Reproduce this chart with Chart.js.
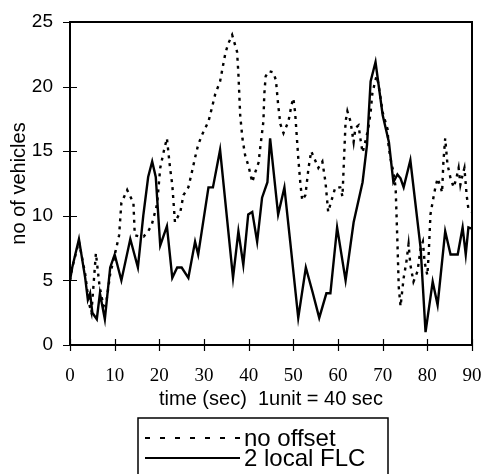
<!DOCTYPE html>
<html>
<head>
<meta charset="utf-8">
<script src="https://cdn.jsdelivr.net/npm/chart.js@4.4.1/dist/chart.umd.min.js"></script>
<style>
  html, body { margin: 0; padding: 0; background: #fff; }
  #wrap { width: 484px; height: 474px; }
</style>
</head>
<body>
<div id="wrap"><canvas id="chart" width="484" height="474"></canvas></div>
<script>
// time units (1 unit = 40 sec) and number of vehicles
const noOffsetX = [0, 0.5, 2, 3.4, 4.2, 4.8, 5.8, 6.6, 7.5, 8.2, 9, 10.3, 11, 11.5, 12.8, 14.2, 14.5, 15.5, 16.5, 17.5,
  18.3, 19.5, 20.2, 21, 21.7, 22.4, 22.9, 23.5, 24.7, 25.4, 26.5, 27.3, 28, 28.7, 29.6, 31, 31.8, 32.5, 33.6, 34.3,
  34.8, 35.4, 36.3, 37.4, 37.7, 38.1, 38.6, 39.2, 40, 40.8, 41.5, 42.2, 42.6, 43.3, 43.5, 43.8, 44.5, 45.5, 46.1, 46.6,
  47.1, 47.8, 48.9, 49.6, 50, 50.4, 51.1, 51.6, 52, 52.7, 53.4, 54, 55, 55.6, 56.5, 57.2, 57.8, 59.4, 60.5, 61,
  61.3, 61.7, 62.1, 62.8, 63.5, 63.9, 64.6, 65, 65.5, 66.1, 66.8, 67.3, 67.7, 68.6, 69, 69.5, 70, 71.1, 71.3, 71.7,
  72.4, 72.9, 73.3, 73.6, 74, 74.7, 75.3, 75.8, 76.2, 76.9, 77.8, 78.5, 79, 79.4, 80, 80.3, 80.7, 81.2, 81.8, 82.3,
  83, 83.3, 83.6, 84, 84.5, 85.2, 85.9, 86.5, 87, 87.4, 87.9, 88.3, 88.8, 89.2, 90];
const noOffsetY = [5, 6, 8, 5.5, 3.3, 2.5, 7.1, 4.6, 3, 3.5, 5.5, 7.4, 8.5, 11, 12, 11, 8.5, 8.4, 8.4, 8.8,
  9.3, 10.9, 13.7, 15, 16, 13.7, 12.4, 9.5, 10.3, 11.6, 12.2, 13.4, 14.5, 15.5, 16.3, 17.3, 18.4, 19.4, 20.4, 21.7,
  22.6, 23.3, 24, 22.7, 21, 17.8, 16, 14.7, 13.8, 12.6, 13.4, 14.1, 15.3, 17.3, 19.4, 20.8, 21.2, 21.1, 20.5, 18.6,
  17.1, 16.4, 17.3, 18.6, 19.1, 18, 14.5, 12.4, 11.2, 11.6, 13.7, 15, 14.2, 13.7, 14.2, 12.6, 10.3, 12.2, 12.2, 11.5,
  14, 17.3, 18.1, 17.3, 15.7, 16.8, 17, 16, 14.9, 15.7, 16.8, 18, 19.5, 20.8, 20.3, 19.2, 18, 16.7, 15.5, 14.5,
  13.4, 12.2, 8, 4.5, 3, 5.2, 6.4, 7.8, 6.2, 4.9, 5.7, 7.5, 8, 6.4, 5.4, 7, 10.1, 11.1, 12.2, 12.9,
  12.2, 11.8, 14.2, 16, 14, 12.9, 12.2, 12.9, 13.7, 12.4, 13.2, 13.7, 11.6, 10.5, 10.3];

const localFlcX = [0, 0.5, 2, 3.4, 4, 4.5, 5, 6, 6.7, 7.8, 9, 10, 11.5, 13.5, 15.2, 16.4, 17.5, 18.4, 19.2, 20.2,
  21.7, 22.9, 24, 25, 26.5, 28, 28.7, 31, 32, 33.6, 36.5, 37.7, 38.8, 39.9, 40.8, 41.9, 43, 44.2, 44.8, 46.6,
  48, 49.3, 51.1, 52.8, 54.3, 55.8, 57.4, 58.3, 59.8, 61.7, 63.5, 65.5, 66.5, 67.3, 68.4, 70, 71.4, 72.4, 73.3, 74,
  74.7, 76.2, 78.5, 79.6, 81.2, 82.3, 84, 85.2, 86.8, 87.9, 88.6, 89.2, 90];
const localFlcY = [5, 6, 8.2, 5.2, 3.5, 4, 2.5, 2, 4, 2, 6, 7, 5, 8.2, 6, 10, 13, 14.2, 13, 7.7,
  9.2, 5.2, 6, 6, 5.2, 8, 7, 12.2, 12.2, 15.1, 5.2, 8.8, 6.2, 10.1, 10.3, 8, 11.4, 12.6, 16, 10.1,
  12.2, 8, 2.1, 6, 4.1, 2.1, 4, 4, 9.1, 5, 9.5, 12.6, 15.5, 20.4, 21.9, 17.8, 15.7, 12.6, 13.2, 12.9,
  12.2, 14.3, 7.5, 1, 4.9, 3.1, 8.8, 7, 7, 9.1, 7, 9.1, 9];

const xTicks = [0, 10, 20, 30, 40, 50, 60, 70, 80, 90];
const yTicks = [0, 5, 10, 15, 20, 25];
const seriesNames = ["no offset", "2 local FLC"];

function toPoints(xs, ys) {
  return xs.map((x, i) => ({ x: x, y: ys[i] }));
}

// box round the plot, ticks that cross the axes, and the boxed legend under the chart
const frameAndLegend = {
  id: "frameAndLegend",
  afterDatasetsDraw(chart) {
    const ctx = chart.ctx;
    const a = chart.chartArea;
    const xs = chart.scales.x;
    const ys = chart.scales.y;
    ctx.save();
    ctx.strokeStyle = "#000";
    ctx.lineWidth = 2;
    ctx.strokeRect(a.left, a.top, a.right - a.left, a.bottom - a.top);

    ctx.lineWidth = 1.2;
    ctx.beginPath();
    xTicks.forEach((v) => {
      const px = Math.round(xs.getPixelForValue(v)) + 0.5;
      ctx.moveTo(px, a.bottom - 6);
      ctx.lineTo(px, a.bottom + 6);
    });
    yTicks.forEach((v) => {
      const py = Math.round(ys.getPixelForValue(v)) + 0.5;
      ctx.moveTo(a.left - 7, py);
      ctx.lineTo(a.left + 7, py);
    });
    ctx.stroke();

    // legend
    const box = { left: 138, top: 418, right: 388 };
    ctx.lineWidth = 1.5;
    ctx.beginPath();
    ctx.moveTo(box.left, chart.height + 2);
    ctx.lineTo(box.left, box.top);
    ctx.lineTo(box.right, box.top);
    ctx.lineTo(box.right, chart.height + 2);
    ctx.stroke();

    const rows = [438, 458];
    chart.data.datasets.forEach((ds, i) => {
      ctx.lineWidth = 2.2;
      ctx.setLineDash(i === 0 ? [5, 10] : []);
      ctx.beginPath();
      ctx.moveTo(145, rows[i]);
      ctx.lineTo(240, rows[i]);
      ctx.stroke();
      ctx.setLineDash([]);
      ctx.fillStyle = "#000";
      ctx.font = "24px 'Liberation Sans', Arial, sans-serif";
      ctx.textAlign = "left";
      ctx.textBaseline = "alphabetic";
      ctx.fillText(ds.label, 244, rows[i] + 8);
    });
    ctx.restore();
  }
};

const ctx = document.getElementById("chart").getContext("2d");
new Chart(ctx, {
  type: "line",
  data: {
    datasets: [
      {
        label: seriesNames[0],
        data: toPoints(noOffsetX, noOffsetY),
        borderColor: "#000",
        borderWidth: 2.4,
        borderDash: [3, 5],
        pointRadius: 0,
        tension: 0,
        fill: false
      },
      {
        label: seriesNames[1],
        data: toPoints(localFlcX, localFlcY),
        borderColor: "#000",
        borderWidth: 2.4,
        pointRadius: 0,
        tension: 0,
        fill: false
      }
    ]
  },
  options: {
    responsive: false,
    animation: false,
    layout: {
      padding: { left: 0, top: 22, right: 12, bottom: 63 }
    },
    plugins: {
      legend: { display: false },
      tooltip: { enabled: false }
    },
    scales: {
      x: {
        type: "linear",
        min: 0,
        max: 90,
        afterBuildTicks: (scale) => {
          scale.ticks = xTicks.map((v) => ({ value: v }));
        },
        afterFit: (scale) => {
          scale.height = 66;
          scale.paddingLeft = 0;
          scale.paddingRight = 0;
        },
        grid: { display: false, drawTicks: false },
        border: { display: false },
        ticks: {
          color: "#000",
          padding: 20,
          maxRotation: 0,
          font: { family: "'Liberation Serif', 'Times New Roman', serif", size: 19 }
        },
        title: {
          display: true,
          text: "time (sec)  1unit = 40 sec",
          color: "#000",
          padding: { top: 0, bottom: 0 },
          font: { family: "'Liberation Sans', Arial, sans-serif", size: 20 }
        }
      },
      y: {
        min: 0,
        max: 25,
        afterBuildTicks: (scale) => {
          scale.ticks = yTicks.map((v) => ({ value: v }));
        },
        afterFit: (scale) => {
          scale.width = 70;
          scale.paddingTop = 0;
          scale.paddingBottom = 0;
        },
        grid: { display: false, drawTicks: false },
        border: { display: false },
        ticks: {
          color: "#000",
          padding: 17,
          font: { family: "'Liberation Sans', Arial, sans-serif", size: 19 }
        },
        title: {
          display: true,
          text: "no of vehicles",
          color: "#000",
          padding: { top: 7, bottom: 0 },
          font: { family: "'Liberation Sans', Arial, sans-serif", size: 20 }
        }
      }
    }
  },
  plugins: [frameAndLegend]
});
</script>
</body>
</html>
